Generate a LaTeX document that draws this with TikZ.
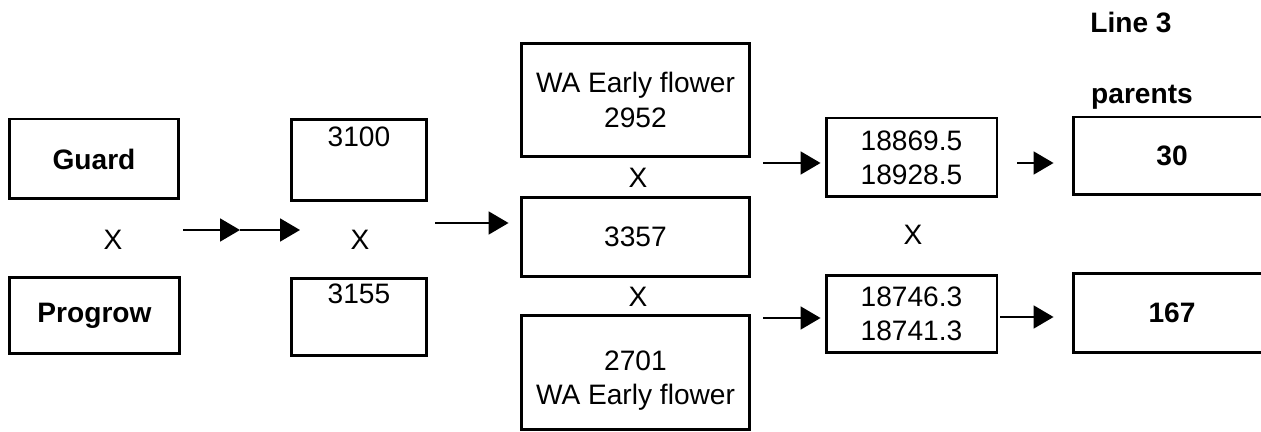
\documentclass[tikz,border=0pt]{standalone}
\usepackage{fontspec}
\setmainfont{Liberation Sans}
\usetikzlibrary{arrows.meta, positioning}

\begin{document}
\begin{tikzpicture}[
            x=0.02cm, y=-0.02cm,
            font=\fontsize{16}{19.5}\selectfont,
            box/.style={rectangle, draw=black, line width=1.7pt, inner sep=0pt, text centered, align=center},
            heading/.style={font=\fontsize{16}{19.5}\selectfont\bfseries},
            arrow/.style={line width=1.1pt, -{Triangle[length=0.4cm, width=0.46cm]}}
            ]
            \useasboundingbox (0,0) rectangle (1261,432);
            \clip (0,0) rectangle (1261,432);

            % parents
            \node (guard) [box, heading, minimum width=3.4cm, minimum height=1.6cm] at (94,159) {Guard};
            \node (xleft) at (113,240) {X};
            \node (progrow) [box, heading, minimum width=3.42cm, minimum height=1.54cm] at (94.5,315.5) {Progrow};

            \node (b3100) [box, anchor=north, minimum width=2.72cm, text height=0.55cm, text depth=1.07cm] at (359,118) {3100};
            \node (xmid) at (360,240) {X};
            \node (b3155) [box, anchor=north, minimum width=2.72cm, text height=0.51cm, text depth=1.03cm] at (359,277) {3155};

            \node (wa2952) [box, minimum width=4.58cm, minimum height=2.28cm] at (635.5,100) {WA Early flower\\2952};
            \node (xa) at (638,178) {X};
            \node (b3357) [box, minimum width=4.58cm, minimum height=1.6cm] at (635.5,237) {3357};
            \node (xb) at (638,297) {X};
            \node (wa2701) [box, minimum width=4.58cm, minimum height=2.3cm] at (635.5,372.5)
                {\raisebox{-0.32cm}[0pt][0pt]{\begin{tabular}{@{}c@{}}2701\\WA Early flower\end{tabular}}};

            \node (f1) [box, minimum width=3.42cm, minimum height=1.58cm] at (911.5,157.5) {18869.5\\18928.5};
            \node (xf) at (913,235) {X};
            \node (f2) [box, minimum width=3.42cm, minimum height=1.56cm] at (911.5,314) {18746.3\\18741.3};

            \node (line3) [heading] at (1131,22) {Line 3};
            \node (parents) [heading] at (1142,97) {parents};
            \node (p30) [box, heading, minimum width=3.96cm, minimum height=1.56cm] at (1172,156) {30};
            \node (p167) [box, heading, minimum width=3.96cm, minimum height=1.6cm] at (1172,313) {167};

            % arrow ends
            \coordinate (a1) at (183,230);
            \coordinate (a2) at (240,230);
            \coordinate (a3) at (300,230);
            \coordinate (c1) at (435,223);
            \coordinate (d1) at (763,163);
            \coordinate (d2) at (763,318);
            \coordinate (e1) at (1017,163);
            \coordinate (e2) at (1000,317);

            \draw [arrow] (a1) -- (a2);
            \draw [arrow] (a2) -- (a3);
            \draw [arrow, shorten >=0.22cm] (c1) -- (c1 -| b3357.west);
            \draw [arrow, shorten >=0.08cm] (d1) -- (d1 -| f1.west);
            \draw [arrow, shorten >=0.08cm] (d2) -- (d2 -| f2.west);
            \draw [arrow, shorten >=0.36cm] (e1) -- (e1 -| p30.west);
            \draw [arrow, shorten >=0.36cm] (e2) -- (e2 -| p167.west);
        \end{tikzpicture}
\end{document}
